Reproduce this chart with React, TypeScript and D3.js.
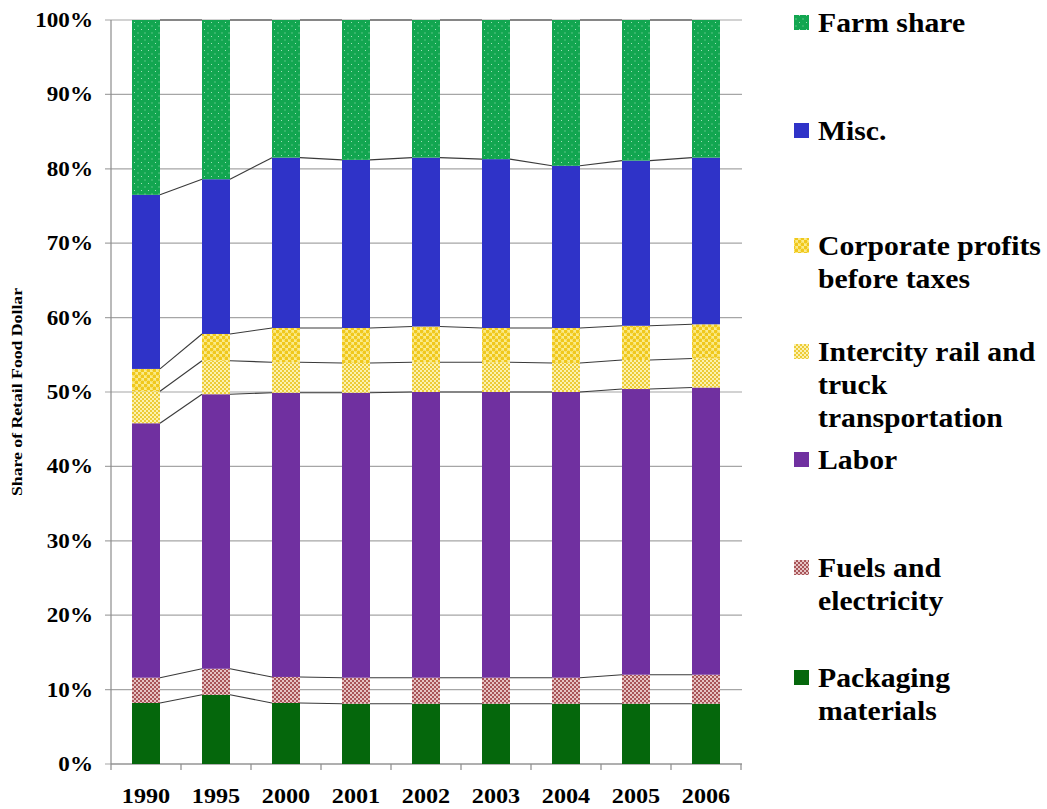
import React from "react";
import * as d3 from "d3";

const years = ["1990", "1995", "2000", "2001", "2002", "2003", "2004", "2005", "2006"];
const packaging = [8.2, 9.3, 8.2, 8.1, 8.1, 8.1, 8.1, 8.1, 8.1];
const fuels = [3.4, 3.5, 3.5, 3.5, 3.5, 3.5, 3.5, 3.9, 3.9];
const labor = [34.2, 36.9, 38.2, 38.3, 38.4, 38.4, 38.4, 38.4, 38.6];
const intercity = [4.3, 4.5, 4.1, 4.0, 4.0, 4.0, 3.9, 3.9, 3.9];
const corporate = [3.0, 3.6, 4.6, 4.7, 4.8, 4.6, 4.7, 4.6, 4.6];
const misc = [23.4, 20.8, 22.9, 22.6, 22.7, 22.7, 21.8, 22.2, 22.4];
const farm = [23.5, 21.4, 18.5, 18.8, 18.5, 18.7, 19.6, 18.9, 18.5];

const seriesKeys = ["packaging", "fuels", "labor", "intercity", "corporate", "misc", "farm"];
const seriesValues: Record<string, number[]> = { packaging, fuels, labor, intercity, corporate, misc, farm };
const yTicks = [0, 10, 20, 30, 40, 50, 60, 70, 80, 90, 100];

const fills: Record<string, string> = {
  packaging: "#05670C",
  fuels: "url(#patFuels)",
  labor: "#7030A0",
  intercity: "url(#patIntercity)",
  corporate: "url(#patCorp)",
  misc: "#2F33C8",
  farm: "url(#patFarm)",
};

const legendItems = [
  { key: "farm", lines: ["Farm share"], y: 32 },
  { key: "misc", lines: ["Misc."], y: 140 },
  { key: "corporate", lines: ["Corporate profits", "before taxes"], y: 255 },
  { key: "intercity", lines: ["Intercity rail and", "truck", "transportation"], y: 361 },
  { key: "labor", lines: ["Labor"], y: 469 },
  { key: "fuels", lines: ["Fuels and", "electricity"], y: 577 },
  { key: "packaging", lines: ["Packaging", "materials"], y: 687 },
];

const FONT = "'Liberation Serif', 'Times New Roman', serif";

export default function App() {
  const left = 111, right = 741, top = 20, bottom = 764;
  const x = d3.scaleBand<string>().domain(years).range([left, right]).paddingInner(0.6).paddingOuter(0.3);
  const y = d3.scaleLinear().domain([0, 100]).range([bottom, top]);
  const table = years.map((yr, i) => {
    const row: any = { year: yr };
    seriesKeys.forEach((k) => (row[k] = seriesValues[k][i]));
    return row;
  });
  const stack = d3.stack<any>().keys(seriesKeys)(table);
  const bw = x.bandwidth();
  const sx = 1.1;
  const lineGap = 33;

  const txt = (tx: number, ty: number, s: string, size: number, anchor: string, key?: any) => (
    <g key={key} transform={`translate(${tx},${ty}) scale(${sx},1)`}>
      <text x={0} y={0} fontFamily={FONT} fontWeight="bold" fontSize={size} textAnchor={anchor as any} fill="#000">
        {s}
      </text>
    </g>
  );

  const line = d3.line<[number, number]>();

  return (
    <svg width={1047} height={809} style={{ position: "absolute", left: 0, top: 0, background: "#fff" }}>
      <defs>
        <pattern id="patFarm" width="7" height="7" patternUnits="userSpaceOnUse">
          <rect width="7" height="7" fill="#12A650" />
          <rect x="1" y="1" width="1" height="1" fill="#9FE0B8" />
          <rect x="4.5" y="4.5" width="1" height="1" fill="#9FE0B8" />
        </pattern>
        <pattern id="patCorp" width="6" height="6" patternUnits="userSpaceOnUse">
          <rect width="6" height="6" fill="#FBEB8A" />
          <circle cx="1.5" cy="1.5" r="1.9" fill="#F0C81C" />
          <circle cx="4.5" cy="4.5" r="1.9" fill="#F0C81C" />
        </pattern>
        <pattern id="patIntercity" width="4" height="4" patternUnits="userSpaceOnUse">
          <rect width="4" height="4" fill="#FBF2B0" />
          <rect x="0" y="0" width="2" height="2" fill="#EDCB36" />
          <rect x="2" y="2" width="2" height="2" fill="#EDCB36" />
        </pattern>
        <pattern id="patFuels" width="4" height="4" patternUnits="userSpaceOnUse">
          <rect width="4" height="4" fill="#E6C4C4" />
          <rect x="0" y="0" width="2" height="2" fill="#A85458" />
          <rect x="2" y="2" width="2" height="2" fill="#A85458" />
        </pattern>
      </defs>

      {/* gridlines */}
      {yTicks.map((t) => (
        <line key={"g" + t} x1={left - 6} x2={right + 1} y1={y(t)} y2={y(t)} stroke="#A6A6A6" strokeWidth={1.2} />
      ))}
      {/* y axis */}
      <line x1={left} x2={left} y1={top} y2={bottom} stroke="#8C8C8C" strokeWidth={1.2} />
      {/* x axis */}
      <line x1={left} x2={right + 1} y1={bottom} y2={bottom} stroke="#8C8C8C" strokeWidth={1.2} />
      {d3.range(years.length + 1).map((i) => {
        const xx = left + i * x.step();
        return <line key={"xt" + i} x1={xx} x2={xx} y1={bottom} y2={bottom + 6} stroke="#8C8C8C" strokeWidth={1.2} />;
      })}

      {/* bars */}
      {stack.map((s) => (
        <g key={s.key}>
          {s.map((d, i) => (
            <rect
              key={i}
              x={x(years[i])!}
              y={y(d[1])}
              width={bw}
              height={y(d[0]) - y(d[1])}
              fill={fills[s.key]}
            />
          ))}
        </g>
      ))}

      {/* series lines */}
      {stack.map((s) =>
        s.slice(0, -1).map((d, i) => {
          const p: [number, number][] = [
            [x(years[i])! + bw, y(d[1])],
            [x(years[i + 1])!, y(s[i + 1][1])],
          ];
          return <path key={s.key + "sl" + i} d={line(p)!} stroke="#3A3A3A" strokeWidth={1.1} fill="none" />;
        })
      )}

      {/* y tick labels */}
      {yTicks.map((t) => txt(93, y(t) + 7, `${t}%`, 21, "end", "yl" + t))}

      {/* x labels */}
      {years.map((yr) => txt(x(yr)! + bw / 2, 803, yr, 22, "middle", "xl" + yr))}

      {/* axis title */}
      <text
        transform={`translate(22,${(top + bottom) / 2}) rotate(-90)`}
        fontFamily={FONT}
        fontWeight="bold"
        fontSize={14}
        textAnchor="middle"
        textLength={208}
        lengthAdjust="spacingAndGlyphs"
      >
        Share of Retail Food Dollar
      </text>

      {/* legend */}
      {legendItems.map((it) => (
        <g key={"lg" + it.key}>
          <rect x={794} y={it.y - 17} width={15} height={15} fill={fills[it.key]} />
          {it.lines.map((ln, j) => txt(818, it.y + j * lineGap, ln, 27, "start", it.key + j))}
        </g>
      ))}
    </svg>
  );
}
